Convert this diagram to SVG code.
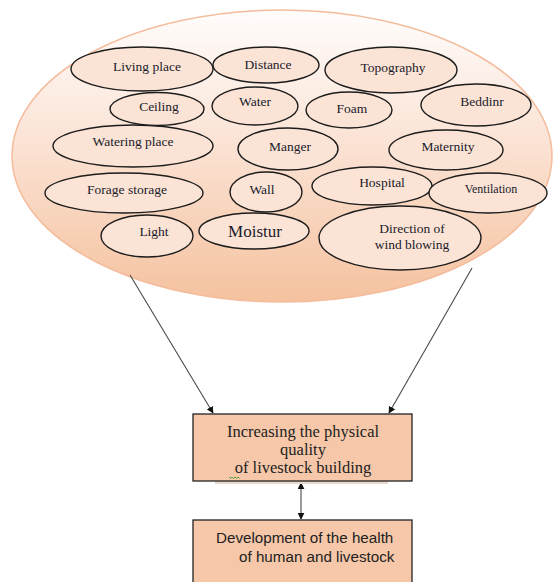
<svg xmlns="http://www.w3.org/2000/svg" width="555" height="582" viewBox="0 0 555 582">
  <style>
    .item ellipse { fill: #FBE4D6; stroke: #1c1c1c; stroke-width: 1.4; }
    .item text { font-family: "Liberation Serif", "Times New Roman", "DejaVu Serif", serif; font-size: 13.5px; fill: #1a1a2a; text-anchor: middle; }
    .box rect { fill: #F6C8A9; stroke: #222; stroke-width: 1.3; }
    .serif { font-family: "Liberation Serif", "Times New Roman", "DejaVu Serif", serif; font-size: 16.5px; fill: #222; text-anchor: middle; }
    .sans { font-family: "Liberation Sans", Arial, sans-serif; font-size: 15.2px; fill: #222; }
    .conn { stroke: #4a4a4a; stroke-width: 1.1; fill: none; }
  </style>
  <defs>
    <linearGradient id="bigfill" x1="0" y1="0" x2="0" y2="1">
      <stop offset="0" stop-color="#FFFDFC"/>
      <stop offset="0.45" stop-color="#FBE3D5"/>
      <stop offset="1" stop-color="#F5C29F"/>
    </linearGradient>
    <marker id="arr" viewBox="0 0 10 10" refX="9" refY="5" markerWidth="7" markerHeight="7" orient="auto-start-reverse" markerUnits="userSpaceOnUse">
      <path d="M0,0 L10,5 L0,10 z" fill="#111"/>
    </marker>
  </defs>

  <g id="group-ellipse">
    <ellipse cx="282" cy="156" rx="270" ry="146" fill="url(#bigfill)" stroke="#F4BC9C" stroke-width="1.5"/>
  </g>

  <g id="n-living" class="item"><ellipse cx="142" cy="69" rx="71" ry="22"/><text x="147" y="71">Living place</text></g>
  <g id="n-distance" class="item"><ellipse cx="266" cy="65" rx="53" ry="18"/><text x="268" y="69">Distance</text></g>
  <g id="n-topography" class="item"><ellipse cx="391" cy="70" rx="66" ry="23"/><text x="393" y="72">Topography</text></g>
  <g id="n-ceiling" class="item"><ellipse cx="157" cy="109" rx="47" ry="16.5"/><text x="159" y="111">Ceiling</text></g>
  <g id="n-water" class="item"><ellipse cx="255" cy="106" rx="43" ry="19"/><text x="255" y="106">Water</text></g>
  <g id="n-foam" class="item"><ellipse cx="349" cy="110" rx="43" ry="18"/><text x="352" y="113">Foam</text></g>
  <g id="n-beddinr" class="item"><ellipse cx="476" cy="105" rx="55" ry="21"/><text x="482" y="106">Beddinr</text></g>
  <g id="n-watering" class="item"><ellipse cx="133" cy="146" rx="80" ry="21"/><text x="133" y="146">Watering place</text></g>
  <g id="n-manger" class="item"><ellipse cx="288" cy="149" rx="50" ry="21"/><text x="290" y="151">Manger</text></g>
  <g id="n-maternity" class="item"><ellipse cx="446" cy="150" rx="57" ry="20"/><text x="448" y="151">Maternity</text></g>
  <g id="n-forage" class="item"><ellipse cx="124" cy="193" rx="79" ry="20"/><text x="127" y="194">Forage storage</text></g>
  <g id="n-wall" class="item"><ellipse cx="266" cy="192" rx="36" ry="20"/><text x="262" y="194">Wall</text></g>
  <g id="n-hospital" class="item"><ellipse cx="372" cy="186" rx="60" ry="19"/><text x="382" y="187">Hospital</text></g>
  <g id="n-ventilation" class="item"><ellipse cx="488" cy="193" rx="59" ry="20"/><text x="491" y="193" style="font-size:12px">Ventilation</text></g>
  <g id="n-light" class="item"><ellipse cx="147" cy="236" rx="46" ry="21"/><text x="154" y="236">Light</text></g>
  <g id="n-moistur" class="item"><ellipse cx="254" cy="231" rx="55" ry="18"/><text x="255" y="237" style="font-size:17px">Moistur</text></g>
  <g id="n-direction" class="item"><ellipse cx="400" cy="238" rx="81" ry="32"/><text x="412" y="233">Direction of</text><text x="412" y="249">wind blowing</text></g>

  <g id="connectors">
    <line class="conn" x1="130" y1="275" x2="213" y2="413" marker-end="url(#arr)"/>
    <line class="conn" x1="472" y1="268" x2="389" y2="413" marker-end="url(#arr)"/>
    <line class="conn" x1="301" y1="483" x2="301" y2="519" stroke="#111" stroke-width="1.4" marker-start="url(#arr)" marker-end="url(#arr)"/>
  </g>

  <g id="box-quality" class="box">
    <rect x="215" y="481" width="173" height="3" style="fill:#EBD8CC;stroke:none"/>
    <rect x="193" y="414" width="219" height="67"/>
    <text class="serif" x="303" y="437">Increasing the physical</text>
    <text class="serif" x="303" y="455">quality</text>
    <text class="serif" x="303" y="473">of livestock building</text>
    <path d="M229,477 l1.5,1.5 l1.5,-1.5 l1.5,1.5 l1.5,-1.5 l1.5,1.5 l1.5,-1.5 l1.5,1.5" fill="none" stroke="#3a9a2a" stroke-width="0.9"/>
  </g>

  <g id="box-health" class="box">
    <rect x="193" y="520" width="219" height="70"/>
    <text class="sans" x="216" y="543">Development of the health</text>
    <text class="sans" x="239" y="562">of human and livestock</text>
  </g>
</svg>
